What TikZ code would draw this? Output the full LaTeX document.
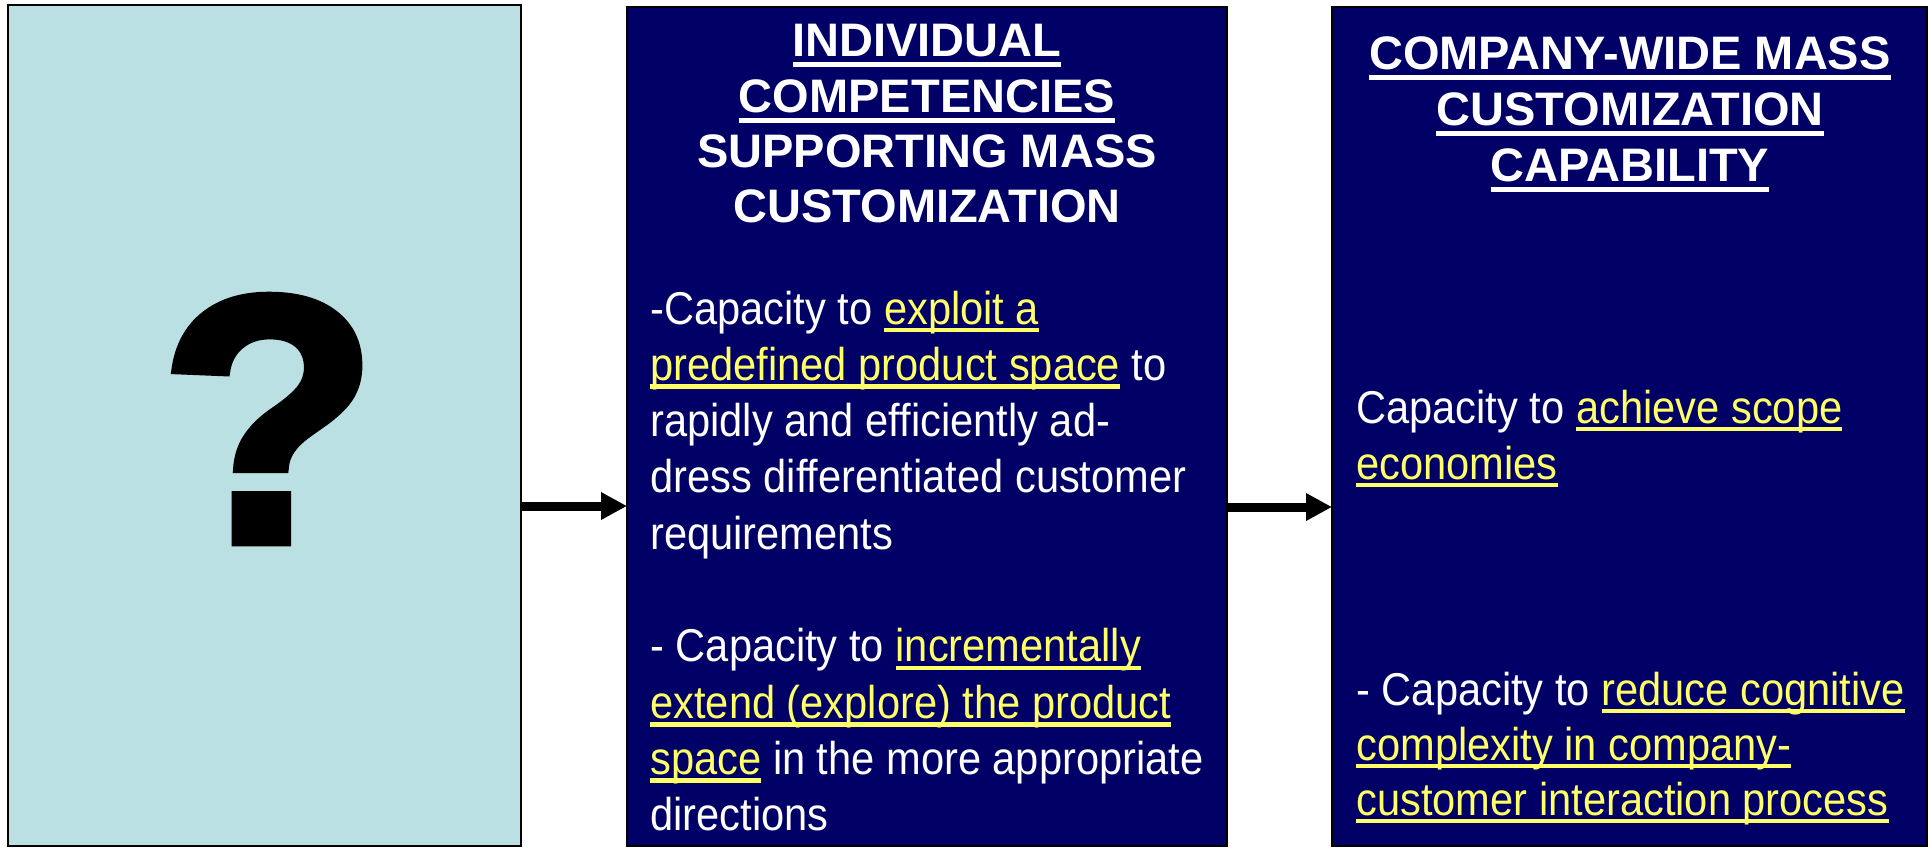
\documentclass[tikz,border=0pt]{standalone}
\usepackage{fontspec}
\setmainfont{Liberation Sans}
\newfontfamily\bodyfont[FakeStretch=0.905]{Liberation Sans}
\newfontfamily\markfont[FakeBold=2.5,FakeStretch=1.02]{Liberation Sans Bold}
\usetikzlibrary{arrows.meta,calc}

\definecolor{navy}{RGB}{0,0,102}
\definecolor{paleteal}{RGB}{186,224,227}
\definecolor{hiyellow}{RGB}{255,255,102}

% underline at a fixed distance below the baseline, through descenders
\newsavebox\ulbox
\newcommand\fixedul[3]{\sbox\ulbox{#3}\rlap{\rule[-#1]{\wd\ulbox}{#2}}\usebox\ulbox}
\newcommand\hul[1]{\fixedul{5.5pt}{2.3pt}{#1}}
\newcommand\yul[1]{{\color{hiyellow}\fixedul{4.2pt}{2.2pt}{#1}}}

\begin{document}
\begin{tikzpicture}[x=0.5pt,y=-0.5pt,
  panel/.style={draw=black, line width=0.8pt, inner sep=0pt, outer sep=0pt},
  head/.style={anchor=base, text=white, inner sep=0pt,
    font=\fontsize{23.5pt}{27.5pt}\selectfont\bfseries},
  body/.style={anchor=base west, text=white, inner sep=0pt,
    font=\bodyfont\fontsize{23pt}{28pt}\selectfont},
  flow/.style={line width=4.5pt, -{Triangle[length=13pt,width=13pt]}}]

\useasboundingbox (0,0) rectangle (1932,848);

% the three panels
\node[panel, fill=paleteal, line width=1.2pt, minimum width=256.5pt, minimum height=420.5pt]
  (q) at (264.5,425.5) {};
\node[panel, fill=navy, minimum width=300pt, minimum height=419.5pt]
  (b2) at (927,426.5) {};
\node[panel, fill=navy, minimum width=297.5pt, minimum height=419.5pt]
  (b3) at (1629.5,426.5) {};

% question mark
\node[inner sep=0pt] (qm) at (269,419) {\markfont\fontsize{176pt}{176pt}\selectfont ?};

% connectors
\draw[flow] ($(q.east)+(0,80.5)$) -- ($(b2.west)+(0,79.5)$);
\draw[flow] ($(b2.east)+(0,80.5)$) -- ($(b3.west)+(0,80.5)$);

% middle panel heading
\node[head] (h21) at (927,56)  {\hul{INDIVIDUAL}};
\node[head] (h22) at (927,112) {\hul{COMPETENCIES}};
\node[head] (h23) at (927,167) {SUPPORTING MASS};
\node[head] (h24) at (927,222) {CUSTOMIZATION};

% middle panel text
\node[body] (t21) at (650,324)   {-Capacity to \yul{exploit a}};
\node[body] (t22) at (650,380.3) {\yul{predefined product space} to};
\node[body] (t23) at (650,436.6) {rapidly and efficiently ad-};
\node[body] (t24) at (650,492.9) {dress differentiated customer};
\node[body] (t25) at (650,549.2) {requirements};
\node[body] (t26) at (650,661.8) {- Capacity to \yul{incrementally}};
\node[body] (t27) at (650,718.1) {\yul{extend (explore) the product}};
\node[body] (t28) at (650,774.4) {\yul{space} in the more appropriate};
\node[body] (t29) at (650,830.7) {directions};

% right panel heading
\node[head] (h31) at (1630,69)  {\hul{COMPANY-WIDE MASS}};
\node[head] (h32) at (1630,125) {\hul{CUSTOMIZATION}};
\node[head] (h33) at (1630,181) {\hul{CAPABILITY}};

% right panel text
\node[body] (t31) at (1356,423) {Capacity to \yul{achieve scope}};
\node[body] (t32) at (1356,479) {\yul{economies}};
\node[body] (t33) at (1356,705) {- Capacity to \yul{reduce cognitive}};
\node[body] (t34) at (1356,760) {\yul{complexity in company-}};
\node[body] (t35) at (1356,815) {\yul{customer interaction process}};
\end{tikzpicture}
\end{document}
